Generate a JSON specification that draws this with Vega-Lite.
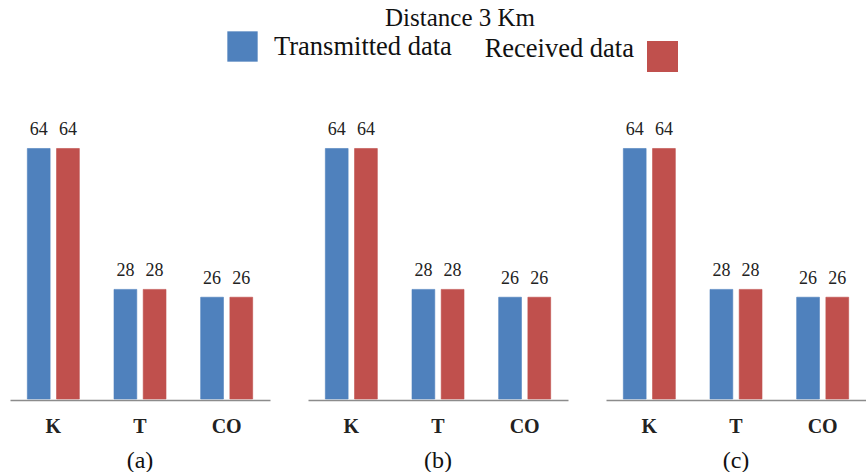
{
  "$schema": "https://vega.github.io/schema/vega-lite/v6.json",
  "padding": {"left": 10, "right": 0, "top": 6, "bottom": 0},
  "background": "white",
  "title": {
    "text": "Distance 3 Km",
    "font": "Liberation Serif",
    "fontSize": 25,
    "fontWeight": "normal",
    "color": "#111",
    "anchor": "middle",
    "dx": 22,
    "offset": 0
  },
  "data": {
    "values": [
      {"panel": "(a)", "gas": "K", "series": "Transmitted data", "value": 64},
      {"panel": "(a)", "gas": "K", "series": "Received data", "value": 64},
      {"panel": "(a)", "gas": "T", "series": "Transmitted data", "value": 28},
      {"panel": "(a)", "gas": "T", "series": "Received data", "value": 28},
      {"panel": "(a)", "gas": "CO", "series": "Transmitted data", "value": 26},
      {"panel": "(a)", "gas": "CO", "series": "Received data", "value": 26},
      {"panel": "(b)", "gas": "K", "series": "Transmitted data", "value": 64},
      {"panel": "(b)", "gas": "K", "series": "Received data", "value": 64},
      {"panel": "(b)", "gas": "T", "series": "Transmitted data", "value": 28},
      {"panel": "(b)", "gas": "T", "series": "Received data", "value": 28},
      {"panel": "(b)", "gas": "CO", "series": "Transmitted data", "value": 26},
      {"panel": "(b)", "gas": "CO", "series": "Received data", "value": 26},
      {"panel": "(c)", "gas": "K", "series": "Transmitted data", "value": 64},
      {"panel": "(c)", "gas": "K", "series": "Received data", "value": 64},
      {"panel": "(c)", "gas": "T", "series": "Transmitted data", "value": 28},
      {"panel": "(c)", "gas": "T", "series": "Received data", "value": 28},
      {"panel": "(c)", "gas": "CO", "series": "Transmitted data", "value": 26},
      {"panel": "(c)", "gas": "CO", "series": "Received data", "value": 26}
    ]
  },
  "facet": {
    "column": {
      "field": "panel",
      "type": "nominal",
      "header": {
        "title": null,
        "labelOrient": "bottom",
        "labelFont": "Liberation Serif",
        "labelFontSize": 24,
        "labelColor": "#111",
        "labelPadding": 13
      }
    }
  },
  "spacing": 38,
  "spec": {
    "width": 260,
    "height": 274,
    "encoding": {
      "x": {
        "field": "gas",
        "type": "nominal",
        "sort": ["K", "T", "CO"],
        "scale": {"paddingInner": 0.4, "paddingOuter": 0.2},
        "axis": {
          "title": null,
          "ticks": false,
          "labelAngle": 0,
          "domainColor": "#8c8c8c",
          "domainWidth": 1.5,
          "labelFont": "Liberation Serif",
          "labelFontWeight": "bold",
          "labelFontSize": 20,
          "labelColor": "#222",
          "labelPadding": 16
        }
      },
      "xOffset": {
        "field": "series",
        "type": "nominal",
        "sort": ["Transmitted data", "Received data"],
        "scale": {"paddingInner": 0.22}
      },
      "y": {
        "field": "value",
        "type": "quantitative",
        "scale": {"domain": [0, 70]},
        "axis": null
      }
    },
    "layer": [
      {
        "mark": {"type": "bar", "strokeWidth": 1, "strokeOpacity": 0.6},
        "encoding": {
          "fill": {
            "field": "series",
            "type": "nominal",
            "scale": {"domain": ["Transmitted data", "Received data"], "range": ["#4F81BD", "#C0504D"]},
            "legend": {
              "values": ["Transmitted data"],
              "title": null,
              "orient": "none",
              "legendX": 217,
              "legendY": -94,
              "symbolType": "square",
              "symbolSize": 920,
              "symbolStrokeWidth": 0,
              "labelFont": "Liberation Serif",
              "labelFontSize": 26.5,
              "labelColor": "#111",
              "labelLimit": 400,
              "labelOffset": 16
            }
          },
          "stroke": {
            "field": "series",
            "type": "nominal",
            "scale": {"domain": ["Received data", "Transmitted data"], "range": ["#C0504D", "#4F81BD"]},
            "legend": {
              "values": ["Received data"],
              "title": null,
              "orient": "none",
              "legendX": 637,
              "legendY": -84,
              "symbolType": "square",
              "symbolSize": 960,
              "symbolFillColor": "#C0504D",
              "symbolStrokeWidth": 0,
              "labelAlign": "right",
              "labelOffset": -44,
              "labelLimit": 400,
              "labelFont": "Liberation Serif",
              "labelFontSize": 26.5,
              "labelColor": "#111",
              "encode": {"labels": {"update": {"dy": {"value": -8}}}}
            }
          }
        }
      },
      {
        "mark": {
          "type": "text",
          "baseline": "bottom",
          "dy": -9,
          "font": "Liberation Serif",
          "fontSize": 18,
          "color": "#222"
        },
        "encoding": {
          "text": {"field": "value", "type": "quantitative"}
        }
      }
    ]
  },
  "config": {
    "view": {"stroke": null}
  }
}
